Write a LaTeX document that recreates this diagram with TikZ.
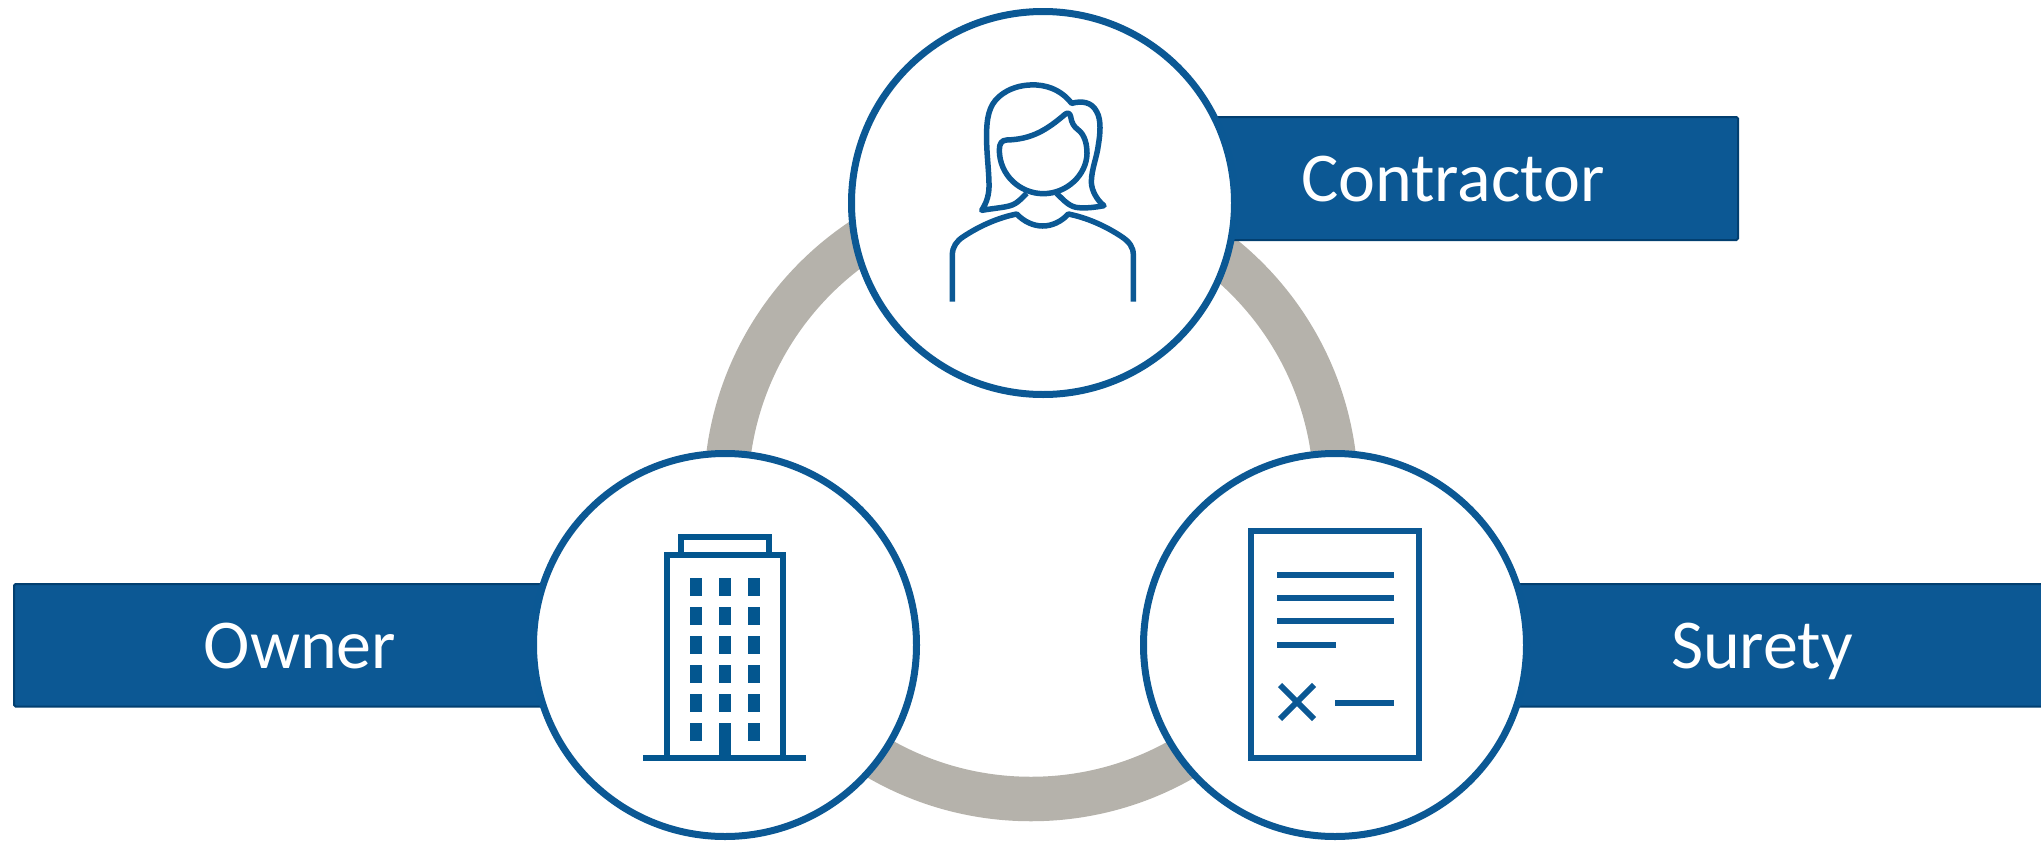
\documentclass[tikz,border=0pt]{standalone}
\usepackage{fontspec}
\setmainfont{Carlito}
\definecolor{ringgray}{HTML}{B5B2AB}
\definecolor{bandblue}{HTML}{0C5894}
\definecolor{banddark}{HTML}{023F70}
\definecolor{iconblue}{HTML}{0B5894}
\definecolor{towerblue}{HTML}{03568F}
\tikzset{
  ring/.style={circle,draw=ringgray,line width=22.25pt,minimum size=305pt,inner sep=0pt},
  band/.style={draw=banddark,fill=bandblue,line width=1pt,rounded corners=0.8pt},
  badge/.style={circle,draw=iconblue,fill=white,line width=3.5pt,minimum size=191.5pt,inner sep=0pt},
  bandtext/.style={anchor=base,text=white,font=\fontsize{35pt}{42pt}\selectfont,inner sep=0pt},
  iconline/.style={draw=iconblue,line width=2.9pt},
  towerline/.style={draw=towerblue,line width=2.9pt},
  womanline/.style={draw=iconblue,line width=2.75pt,line cap=butt,line join=round},
  pane/.style={fill=towerblue}
}
\begin{document}
\begin{tikzpicture}[x=0.5pt,y=-0.5pt]
\useasboundingbox (0,0) rectangle (2041,841);
% ring
\node[ring] (loop) at (1031,494) {};
% bands
\draw[band] (1100,117) rectangle (1738,240);
\draw[band] (14,584) rectangle (600,706.5);
\draw[band] (1400,584) rectangle (2060,706.5);
% circles
\node[badge] (top) at (1043,203) {};
\node[badge] (left) at (725,645) {};
\node[badge] (right) at (1335,645) {};
% labels
\node[bandtext] (contractor) at (1453,201) {Contractor};
\node[bandtext] (owner) at (300,668) {Owner};
\node[bandtext] (surety) at (1762,668) {Surety};
% woman icon (coordinates measured on a 3x grid)
\begin{scope}[shift={(900,60)},x=0.16667pt,y=-0.16667pt]
  \draw[womanline] (157,725) -- (157,585) .. controls (157,560) and (170,543) .. (190,530)
    .. controls (240,497) and (295,473) .. (350,462)
    .. controls (372,485) and (400,498) .. (428,498)
    .. controls (456,498) and (484,485) .. (505,462)
    .. controls (560,473) and (615,497) .. (665,530)
    .. controls (687,545) and (700,560) .. (700,585) -- (700,725);
  \draw[womanline] (380,400) .. controls (350,430) and (345,437) .. (300,443)
    .. controls (280,446) and (262,448) .. (245,451)
    .. controls (262,425) and (268,400) .. (267,370)
    .. controls (266,320) and (258,270) .. (260,210)
    .. controls (262,160) and (272,125) .. (310,100)
    .. controls (340,80) and (375,73) .. (410,75)
    .. controls (455,78) and (490,98) .. (515,130)
    .. controls (545,122) and (575,125) .. (590,155)
    .. controls (605,180) and (600,225) .. (595,255)
    .. controls (590,295) and (575,325) .. (574,365)
    .. controls (574,390) and (590,420) .. (612,437)
    .. controls (585,442) and (560,445) .. (535,443)
    .. controls (510,441) and (495,425) .. (470,400);
  \draw[womanline] (320,240) .. controls (395,238) and (440,210) .. (495,163)
    .. controls (503,156) and (510,160) .. (512,170)
    .. controls (515,190) and (522,200) .. (535,210)
    .. controls (555,225) and (561,255) .. (561,280)
    .. controls (560,345) and (500,401) .. (430,401)
    .. controls (360,401) and (298,345) .. (298,270)
    .. controls (298,250) and (305,241) .. (320,240) -- cycle;
\end{scope}
% building icon
\draw[towerline] (643.3,757.7) -- (806,757.7);
\draw[towerline] (667,757.7) -- (667,554.7) -- (783,554.7) -- (783,757.7);
\draw[towerline] (681.3,554.7) -- (681.3,537.2) -- (768.7,537.2) -- (768.7,554.7);
\foreach \wx in {690,719,748}{
  \foreach \wy in {578,607,636,665,694}{
    \fill[pane] (\wx,\wy) rectangle ++(12,18);
  }
}
\fill[pane] (690,723) rectangle ++(12,18);
\fill[pane] (748,723) rectangle ++(12,18);
\fill[pane] (719,723) rectangle (731,758);
% document icon
\draw[iconline] (1251,531.3) rectangle (1419.3,757.7);
\draw[iconline] (1277,575) -- (1394,575);
\draw[iconline] (1277,598) -- (1394,598);
\draw[iconline] (1277,621) -- (1394,621);
\draw[iconline] (1277,645) -- (1336,645);
\draw[iconline] (1335,703) -- (1394,703);
\draw[iconline] (1280,685) -- (1314,719);
\draw[iconline] (1314,685) -- (1280,719);
\end{tikzpicture}
\end{document}
